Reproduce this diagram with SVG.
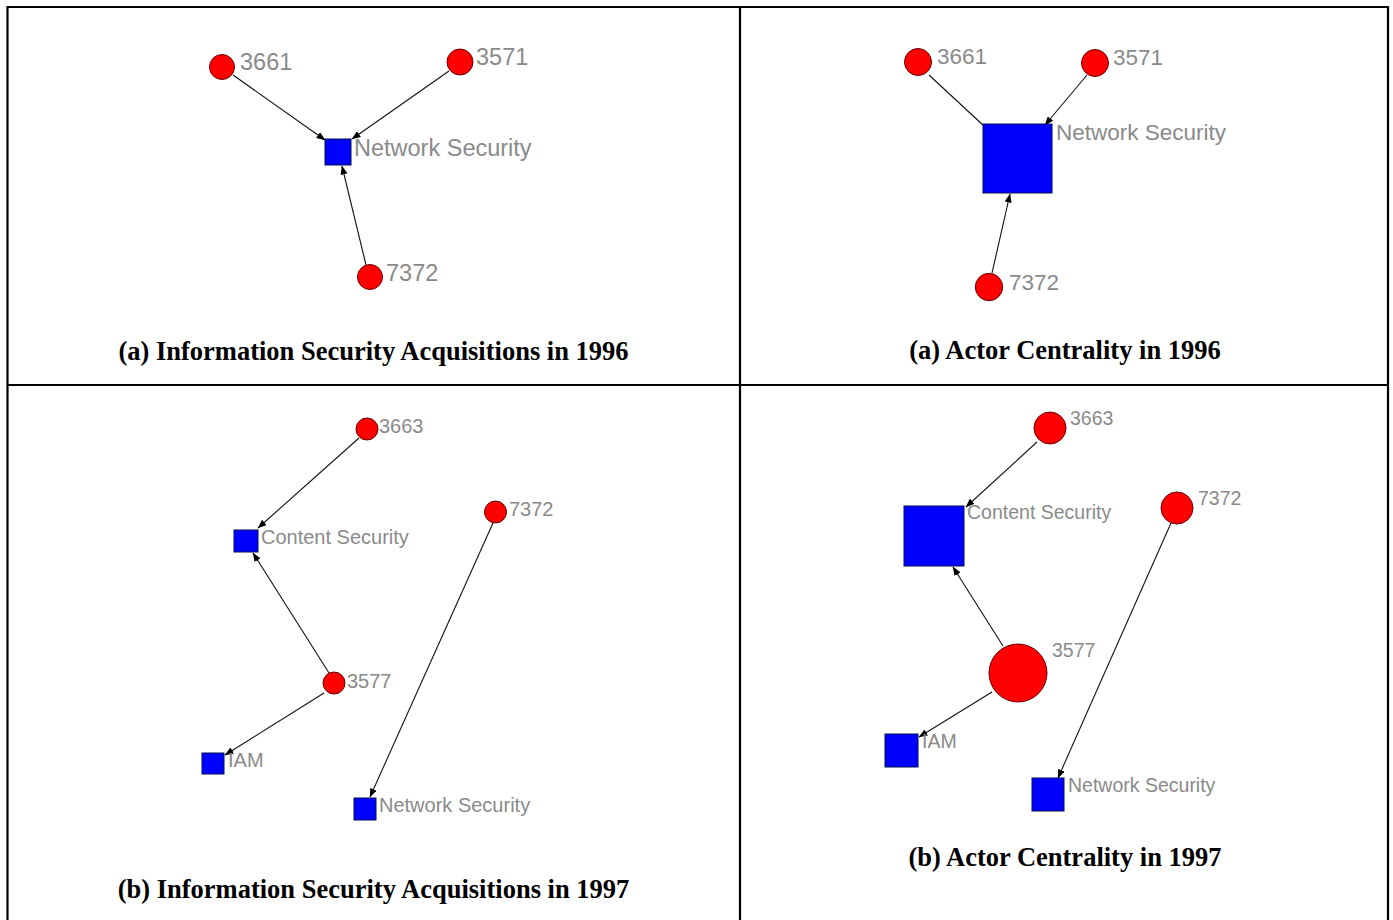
<svg xmlns="http://www.w3.org/2000/svg" width="1393" height="920" viewBox="0 0 1393 920">
<defs>
<marker id="arr" markerUnits="userSpaceOnUse" markerWidth="9" markerHeight="7" refX="8.5" refY="3.5" orient="auto">
<path d="M0,0 L9,3.5 L0,7 z" fill="#000"/>
</marker>
<style>
.grid{stroke:#000;stroke-width:2.2;fill:none}
.c{fill:#f00;stroke:#600;stroke-width:1}
.s{fill:#00f;stroke:#001050;stroke-width:1}
.e{stroke:#111;stroke-width:1.1;fill:none}
.a{marker-end:url(#arr)}
.l{font-family:"Liberation Sans",Arial,sans-serif;fill:#8a8a8a}
.l1{font-size:23.5px}
.l2{font-size:22.5px}
.l3{font-size:20px}
.l4{font-size:19.5px}
.cap{font-family:"Liberation Serif","Times New Roman",serif;font-weight:bold;font-size:26.5px;fill:#000;text-anchor:middle}
</style>
</defs>
<rect width="1393" height="920" fill="#fff"/>
<g id="table">
<path class="grid" d="M7.5,7 H1388 M7.5,6 V920 M1388,6 V920 M740,6 V920 M7.5,385 H1388"/>
</g>
<g id="connectors">
<line class="e a" x1="233" y1="75" x2="325" y2="140"/>
<line class="e a" x1="449" y1="71" x2="352" y2="139"/>
<line class="e a" x1="366" y1="265" x2="342" y2="166"/>
<line class="e" x1="929" y1="75" x2="984" y2="126"/>
<line class="e a" x1="1087" y1="75" x2="1045" y2="125"/>
<line class="e a" x1="992" y1="273" x2="1010" y2="194"/>
<line class="e a" x1="359" y1="438" x2="258" y2="528"/>
<line class="e a" x1="329" y1="673" x2="253" y2="553"/>
<line class="e a" x1="324" y1="693" x2="225" y2="755"/>
<line class="e a" x1="493" y1="523" x2="370" y2="797"/>
<line class="e a" x1="1037" y1="442" x2="966" y2="507"/>
<line class="e a" x1="1003" y1="646" x2="953" y2="567"/>
<line class="e a" x1="992" y1="692" x2="919" y2="737"/>
<line class="e a" x1="1171" y1="523" x2="1058" y2="778"/>
</g>
<g id="p1-3661"><circle class="c" cx="222" cy="67" r="12.5"/><text class="l l1" x="240" y="70">3661</text></g>
<g id="p1-3571"><circle class="c" cx="460" cy="62" r="13"/><text class="l l1" x="476" y="65">3571</text></g>
<g id="p1-ns"><rect class="s" x="325" y="139" width="26" height="26"/><text class="l l1" x="354" y="156">Network Security</text></g>
<g id="p1-7372"><circle class="c" cx="370" cy="277" r="12.5"/><text class="l l1" x="386" y="281">7372</text></g>
<g id="p2-3661"><circle class="c" cx="918" cy="62" r="13.5"/><text class="l l2" x="937" y="64">3661</text></g>
<g id="p2-3571"><circle class="c" cx="1095" cy="63" r="13.5"/><text class="l l2" x="1113" y="65">3571</text></g>
<g id="p2-ns"><rect class="s" x="983" y="124" width="69" height="69"/><text class="l l2" x="1056" y="140">Network Security</text></g>
<g id="p2-7372"><circle class="c" cx="989" cy="287" r="13.7"/><text class="l l2" x="1009" y="290">7372</text></g>
<g id="p3-3663"><circle class="c" cx="367" cy="429" r="11"/><text class="l l3" x="379" y="433">3663</text></g>
<g id="p3-cs"><rect class="s" x="234" y="530" width="24" height="22"/><text class="l l3" x="261" y="544">Content Security</text></g>
<g id="p3-7372"><circle class="c" cx="495.5" cy="512" r="11"/><text class="l l3" x="509" y="516">7372</text></g>
<g id="p3-3577"><circle class="c" cx="334" cy="683" r="11"/><text class="l l3" x="347" y="688">3577</text></g>
<g id="p3-iam"><rect class="s" x="202" y="753" width="22" height="21"/><text class="l l3" x="228" y="767">IAM</text></g>
<g id="p3-ns"><rect class="s" x="354" y="798" width="22" height="22"/><text class="l l3" x="379" y="812">Network Security</text></g>
<g id="p4-3663"><circle class="c" cx="1050" cy="428" r="16"/><text class="l l4" x="1070" y="425">3663</text></g>
<g id="p4-cs"><rect class="s" x="904" y="506" width="60" height="60"/><text class="l l4" x="967" y="519">Content Security</text></g>
<g id="p4-7372"><circle class="c" cx="1177" cy="508" r="16"/><text class="l l4" x="1198" y="505">7372</text></g>
<g id="p4-3577"><circle class="c" cx="1018" cy="673" r="29"/><text class="l l4" x="1052" y="657">3577</text></g>
<g id="p4-iam"><rect class="s" x="885" y="734" width="33" height="33"/><text class="l l4" x="922" y="748">IAM</text></g>
<g id="p4-ns"><rect class="s" x="1032" y="778" width="32" height="33"/><text class="l l4" x="1068" y="792">Network Security</text></g>
<g id="captions">
<text class="cap" x="373.5" y="360">(a) Information Security Acquisitions in 1996</text>
<text class="cap" x="1065" y="359">(a) Actor Centrality in 1996</text>
<text class="cap" x="373.5" y="898">(b) Information Security Acquisitions in 1997</text>
<text class="cap" x="1065" y="866">(b) Actor Centrality in 1997</text>
</g>
</svg>
